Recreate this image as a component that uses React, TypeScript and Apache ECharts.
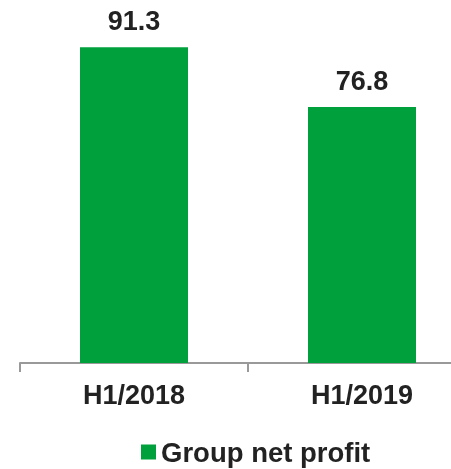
import React, { useEffect, useRef } from "react";
import * as echarts from "echarts";

const categories = ["H1/2018", "H1/2019"];
const profitValues = [91.3, 76.8];
const seriesName = "Group net profit";

export default function App() {
  const ref = useRef<HTMLDivElement>(null);
  useEffect(() => {
    if (!ref.current) return;
    const chart = echarts.init(ref.current, null, { renderer: "svg" });
    const font = "Liberation Sans, Arial, sans-serif";
    chart.setOption({
      animation: false,
      grid: { left: 20, top: 0, width: 456, height: 363, outerBoundsMode: "none", containLabel: false },
      legend: {
        show: true,
        left: 136,
        top: 433,
        itemWidth: 15,
        itemHeight: 15,
        itemGap: 7,
        icon: "rect",
        textStyle: { fontFamily: font, fontSize: 27.5, fontWeight: "bold", color: "#222" },
        data: [seriesName],
      },
      xAxis: {
        type: "category",
        data: categories,
        axisLine: { lineStyle: { color: "#999", width: 2 } },
        axisTick: { show: true, length: 9, lineStyle: { color: "#999", width: 2 } },
        axisLabel: { fontFamily: font, fontSize: 27, fontWeight: "bold", color: "#222", margin: 18 },
      },
      yAxis: {
        type: "value",
        min: 14.9,
        max: 102.7,
        show: false,
        splitLine: { show: false },
      },
      series: [
        {
          name: seriesName,
          type: "bar",
          data: profitValues,
          barWidth: 108,
          itemStyle: { color: "#00a03c" },
          label: {
            show: true,
            position: "top",
            distance: 13,
            fontFamily: font,
            fontSize: 27,
            fontWeight: "bold",
            color: "#222",
          },
        },
      ],
    });
    return () => chart.dispose();
  }, []);
  return <div ref={ref} style={{ position: "fixed", left: 0, top: 0, width: 451, height: 469 }} />;
}
